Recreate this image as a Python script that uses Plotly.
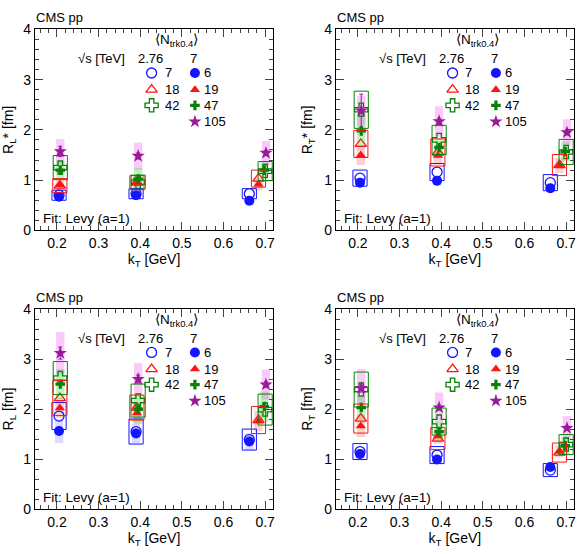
import plotly.graph_objects as go
from plotly.subplots import make_subplots

# mean kT of each bin per multiplicity class (last bin is staggered)
KT_N7 = [0.205, 0.390, 0.662]
KT_N18 = [0.207, 0.392, 0.684]
KT_N42 = [0.208, 0.395, 0.700]
KT_N6 = [0.205, 0.390, 0.662]
KT_N19 = [0.207, 0.392, 0.684]
KT_N47 = [0.208, 0.395, 0.698]
KT_N105 = [0.208, 0.395, 0.702]

# R_L* [fm]
RLS_276_N7 = [0.70, 0.73, 0.73]
RLS_276_N18 = [0.89, 0.95, 1.03]
RLS_276_N42 = [1.25, 0.96, 1.18]
RLS_7_N6 = [0.67, 0.70, 0.59]
RLS_7_N19 = [0.91, 0.95, 0.92]
RLS_7_N47 = [1.20, 1.02, 1.20]
RLS_7_N105 = [1.57, 1.48, 1.54]
RLS_SYS_276 = [[0.10, 0.10, 0.10], [0.14, 0.14, 0.17], [0.24, 0.14, 0.19]]
RLS_SYS_7 = [[0.08, 0.08, 0.07], [0.12, 0.12, 0.12], [0.18, 0.22, 0.15], [0.25, 0.27, 0.24]]
RLS_STAT_105 = [0.10, 0.06, 0.05]

# R_T* [fm]
RTS_276_N7 = [1.04, 1.16, 0.95]
RTS_276_N18 = [1.72, 1.55, 1.30]
RTS_276_N42 = [2.40, 1.80, 1.56]
RTS_7_N6 = [0.95, 0.99, 0.84]
RTS_7_N19 = [1.50, 1.49, 1.29]
RTS_7_N47 = [1.98, 1.65, 1.57]
RTS_7_N105 = [2.38, 2.17, 1.95]
RTS_SYS_276 = [[0.16, 0.17, 0.16], [0.27, 0.27, 0.21], [0.37, 0.29, 0.25]]
RTS_SYS_7 = [[0.09, 0.10, 0.08], [0.20, 0.18, 0.15], [0.30, 0.20, 0.20], [0.30, 0.30, 0.26]]
RTS_STAT_105 = [0.33, 0.06, 0.05]

# R_L [fm]
RL_276_N7 = [1.86, 1.55, 1.39]
RL_276_N18 = [2.22, 2.03, 1.78]
RL_276_N42 = [2.62, 2.17, 1.99]
RL_7_N6 = [1.56, 1.51, 1.35]
RL_7_N19 = [2.02, 1.92, 1.76]
RL_7_N47 = [2.50, 2.00, 2.05]
RL_7_N105 = [3.12, 2.60, 2.49]
RL_SYS_276 = [[0.27, 0.25, 0.21], [0.35, 0.25, 0.27], [0.33, 0.33, 0.31]]
RL_SYS_7 = [[0.24, 0.20, 0.17], [0.20, 0.20, 0.20], [0.30, 0.30, 0.30], [0.42, 0.32, 0.30]]
RL_STAT_105 = [0.12, 0.08, 0.06]

# R_T [fm]
RT_276_N7 = [1.15, 1.08, 0.78]
RT_276_N18 = [1.81, 1.41, 1.13]
RT_276_N42 = [2.39, 1.75, 1.29]
RT_7_N6 = [1.10, 0.99, 0.84]
RT_7_N19 = [1.66, 1.46, 1.15]
RT_7_N47 = [2.03, 1.55, 1.27]
RT_7_N105 = [2.42, 2.03, 1.62]
RT_SYS_276 = [[0.16, 0.17, 0.13], [0.29, 0.22, 0.19], [0.35, 0.27, 0.20]]
RT_SYS_7 = [[0.10, 0.08, 0.08], [0.22, 0.15, 0.12], [0.25, 0.20, 0.18], [0.38, 0.30, 0.24]]
RT_STAT_105 = [0.08, 0.05, 0.04]

LABELS_276 = ["7", "18", "42"]
LABELS_7 = ["6", "19", "47", "105"]
Y_TITLES = ["R<sub>L</sub>* [fm]", "R<sub>T</sub>* [fm]", "R<sub>L</sub> [fm]", "R<sub>T</sub> [fm]"]

BLUE = "#1414ff"
RED = "#ff1414"
GREEN = "#0a800a"
PURPLE = "#991a99"

panels = [
    ([RLS_276_N7, RLS_276_N18, RLS_276_N42], RLS_SYS_276,
     [RLS_7_N6, RLS_7_N19, RLS_7_N47, RLS_7_N105], RLS_SYS_7, RLS_STAT_105),
    ([RTS_276_N7, RTS_276_N18, RTS_276_N42], RTS_SYS_276,
     [RTS_7_N6, RTS_7_N19, RTS_7_N47, RTS_7_N105], RTS_SYS_7, RTS_STAT_105),
    ([RL_276_N7, RL_276_N18, RL_276_N42], RL_SYS_276,
     [RL_7_N6, RL_7_N19, RL_7_N47, RL_7_N105], RL_SYS_7, RL_STAT_105),
    ([RT_276_N7, RT_276_N18, RT_276_N42], RT_SYS_276,
     [RT_7_N6, RT_7_N19, RT_7_N47, RT_7_N105], RT_SYS_7, RT_STAT_105),
]

kt_276 = [KT_N7, KT_N18, KT_N42]
kt_7 = [KT_N6, KT_N19, KT_N47, KT_N105]
sym_276 = ["circle-open", "triangle-up-open", "cross-open"]
sym_7 = ["circle", "triangle-up", "cross", "star"]
col_276 = [BLUE, RED, GREEN]
col_7 = [BLUE, RED, GREEN, PURPLE]
band_7 = ["rgba(90,90,255,0.22)", "rgba(255,60,60,0.25)", "rgba(40,220,40,0.30)", "rgba(240,80,240,0.30)"]
size_276 = [10, 10, 11]
size_7 = [10, 9, 8, 10]

FONT = "Liberation Sans, Arial, sans-serif"

fig = make_subplots(rows=2, cols=2)
xdom = [[35 / 586, 274 / 586], [337 / 586, 576 / 586]]
ydom = [[1 - 229 / 554, 1 - 22 / 554], [1 - 516 / 554, 1 - 310 / 554]]

# legend key layout, in fractions of each panel
rows_y = [0.783, 0.70, 0.622, 0.541]
key_x_276, key_x_7 = 0.49, 0.672

shapes = []
annotations = []
for p, (v276, s276, v7, s7, stat105) in enumerate(panels):
    row, col = p // 2 + 1, p % 2 + 1
    ax = "" if p == 0 else str(p + 1)
    xr, yr = "x" + ax, "y" + ax

    # systematic bands for 7 TeV (filled)
    for i, vals in enumerate(v7):
        for k, v in zip(kt_7[i], zip(vals, s7[i])):
            shapes.append(dict(type="rect", xref=xr, yref=yr, layer="below",
                               x0=k - 0.010, x1=k + 0.010, y0=v[0] - v[1], y1=v[0] + v[1],
                               fillcolor=band_7[i], line=dict(width=0)))
    # systematic boxes for 2.76 TeV (open)
    for i, vals in enumerate(v276):
        for k, v in zip(kt_276[i], zip(vals, s276[i])):
            shapes.append(dict(type="rect", xref=xr, yref=yr, layer="above",
                               x0=k - 0.017, x1=k + 0.017, y0=v[0] - v[1], y1=v[0] + v[1],
                               fillcolor="rgba(0,0,0,0)", line=dict(color=col_276[i], width=1)))

    for i, vals in enumerate(v276):
        fig.add_trace(go.Scatter(x=kt_276[i], y=vals, mode="markers", showlegend=False,
                                 marker=dict(symbol=sym_276[i], size=size_276[i], color=col_276[i],
                                             line=dict(width=1.3, color=col_276[i]))),
                      row=row, col=col)
    for i, vals in enumerate(v7):
        err = dict(type="data", array=stat105, color=PURPLE, width=2, thickness=1) if i == 3 else None
        fig.add_trace(go.Scatter(x=kt_7[i], y=vals, mode="markers", showlegend=False, error_y=err,
                                 marker=dict(symbol=sym_7[i], size=size_7[i], color=col_7[i],
                                             line=dict(width=0))),
                      row=row, col=col)

    # legend keys on an overlay axis spanning the page
    x0, x1 = xdom[col - 1]
    y0, y1 = ydom[row - 1]
    for i in range(3):
        fig.add_trace(go.Scatter(x=[x0 + key_x_276 * (x1 - x0)], y=[y0 + rows_y[i] * (y1 - y0)],
                                 xaxis="x5", yaxis="y5", mode="markers", showlegend=False,
                                 hoverinfo="skip", cliponaxis=False,
                                 marker=dict(symbol=sym_276[i], size=size_276[i], color=col_276[i],
                                             line=dict(width=1.3, color=col_276[i]))))
    for i in range(4):
        fig.add_trace(go.Scatter(x=[x0 + key_x_7 * (x1 - x0)], y=[y0 + rows_y[i] * (y1 - y0)],
                                 xaxis="x5", yaxis="y5", mode="markers", showlegend=False,
                                 hoverinfo="skip", cliponaxis=False,
                                 marker=dict(symbol=sym_7[i], size=size_7[i], color=col_7[i],
                                             line=dict(width=0))))

    dx, dy = "x" + ax + " domain", "y" + ax + " domain"
    def note(text, x, y, size=13.5, xanchor="left"):
        annotations.append(dict(text=text, x=x, y=y, xref=dx, yref=dy, showarrow=False,
                                xanchor=xanchor, yanchor="middle", borderpad=0,
                                font=dict(family=FONT, size=size, color="black")))

    note("CMS pp", 0.0, 1.058, size=13)
    note("Fit: Levy (a=1)", 0.03, 0.058, size=13.5)
    note("⟨N<sub>trk0.4</sub>⟩", 0.594, 0.945, xanchor="center")
    note("√s [TeV]", 0.278, 0.855, xanchor="center", size=13)
    note("2.76", 0.485, 0.855, xanchor="center", size=13)
    note("7", 0.668, 0.855, xanchor="center", size=13)
    for i, lab in enumerate(LABELS_276):
        note(lab, 0.54, rows_y[i], size=13)
    for i, lab in enumerate(LABELS_7):
        note(lab, 0.705, rows_y[i], size=13)

    fig.update_xaxes(domain=xdom[col - 1], range=[0.147, 0.719], dtick=0.1, tick0=0.2,
                     ticks="inside", ticklen=8, showline=True, mirror="allticks",
                     linecolor="black", linewidth=1, showgrid=False, zeroline=False,
                     tickfont=dict(size=14),
                     minor=dict(dtick=0.02, ticks="inside", ticklen=4),
                     title=dict(text="k<sub>T</sub> [GeV]", standoff=2, font=dict(size=14)),
                     row=row, col=col)
    fig.update_yaxes(domain=ydom[row - 1], range=[0, 4], dtick=1,
                     ticks="inside", ticklen=8, showline=True, mirror="allticks",
                     linecolor="black", linewidth=1, showgrid=False, zeroline=False,
                     tickfont=dict(size=14),
                     minor=dict(dtick=0.2, ticks="inside", ticklen=4),
                     title=dict(text=Y_TITLES[p], standoff=8, font=dict(size=14)),
                     row=row, col=col)

fig.update_layout(
    width=586, height=554,
    margin=dict(l=0, r=0, t=0, b=0),
    plot_bgcolor="rgba(0,0,0,0)", paper_bgcolor="white",
    font=dict(family=FONT, size=13, color="black"),
    xaxis5=dict(domain=[0, 1], range=[0, 1], visible=False, anchor="y5", fixedrange=True),
    yaxis5=dict(domain=[0, 1], range=[0, 1], visible=False, anchor="x5", fixedrange=True),
    shapes=shapes, annotations=annotations,
)

# drop the default page margin so the figure sits at the window's corner
fig.write_html("out.html", config={"displayModeBar": False},
               post_script="document.body.style.margin = '0px';")
